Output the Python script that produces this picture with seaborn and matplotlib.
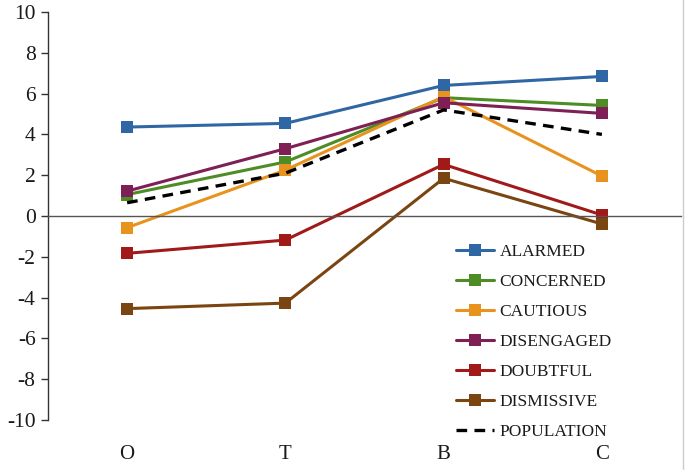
import matplotlib
matplotlib.use("Agg")
import matplotlib.pyplot as plt
import seaborn as sns
import pandas as pd
from matplotlib.lines import Line2D

categories = ["O", "T", "B", "C"]
alarmed = [4.36, 4.54, 6.40, 6.84]
concerned = [1.05, 2.65, 5.80, 5.42]
cautious = [-0.57, 2.25, 5.85, 1.96]
disengaged = [1.22, 3.30, 5.55, 5.03]
doubtful = [-1.83, -1.18, 2.53, 0.05]
dismissive = [-4.54, -4.27, 1.85, -0.39]
population = [0.65, 2.10, 5.20, 4.00]

series_names = ["ALARMED", "CONCERNED", "CAUTIOUS", "DISENGAGED", "DOUBTFUL", "DISMISSIVE", "POPULATION"]
series_values = [alarmed, concerned, cautious, disengaged, doubtful, dismissive, population]
colors = ["#2F66A4", "#4E8C25", "#E8931E", "#7E1F55", "#A01A1A", "#7B4511", "#000000"]

sns.set_theme(style="white")
plt.rcParams["font.family"] = ["Liberation Serif", "DejaVu Serif"]
plt.rcParams["axes.unicode_minus"] = False

fig = plt.figure(figsize=(6.85, 4.70), dpi=100)
ax = fig.add_axes([48 / 685, 50 / 470, 633 / 685, 408 / 470])

for name, vals, col in zip(series_names, series_values, colors):
    df = pd.DataFrame({"cat": categories, "val": vals})
    if name == "POPULATION":
        sns.lineplot(data=df, x="cat", y="val", ax=ax, color=col, lw=2.4,
                     linestyle=(0, (3.2, 2.2)), label=name, sort=False)
    else:
        sns.lineplot(data=df, x="cat", y="val", ax=ax, color=col, lw=2.2,
                     marker="s", markersize=8.5, markeredgewidth=0, label=name, sort=False)

ax.set_xlim(-0.5, 3.5)
ax.set_ylim(-10, 10)
ax.set_yticks(range(-10, 11, 2))
ax.set_xlabel("")
ax.set_ylabel("")

for s in ["top", "right"]:
    ax.spines[s].set_visible(False)
ax.spines["left"].set_color("#333333")
ax.spines["left"].set_linewidth(1.0)
ax.spines["bottom"].set_position(("data", 0))
ax.spines["bottom"].set_color("#555555")
ax.spines["bottom"].set_linewidth(1.0)

ax.set_xticks(range(len(categories)))
ax.set_xticklabels(categories)
ax.set_xticks([-0.5, 0.5, 1.5, 2.5, 3.5], minor=True)
ax.tick_params(axis="x", which="major", length=0, pad=165, labelsize=15, colors="#1a1a1a")
ax.tick_params(axis="x", which="minor", length=5, width=1.0, direction="out", color="#555555")
ax.tick_params(axis="y", which="major", length=5, width=1.0, direction="out", left=True,
               labelsize=15.5, colors="#1a1a1a", pad=4)
ax.tick_params(axis="y", which="major", color="#333333")

leg = ax.legend(loc="upper left", bbox_to_anchor=(456 / 685, 1 - 244 / 470),
                bbox_transform=fig.transFigure, frameon=False, fontsize=12.5,
                handlelength=2.2, handletextpad=0.3, labelspacing=0.8,
                borderaxespad=0, borderpad=0)
for t in leg.get_texts():
    t.set_color("#1a1a1a")

fig.add_artist(Line2D([683 / 685, 683 / 685], [0, 1], transform=fig.transFigure,
                      color="#cccccc", lw=1.0))

fig.savefig("out.png", dpi=100)
